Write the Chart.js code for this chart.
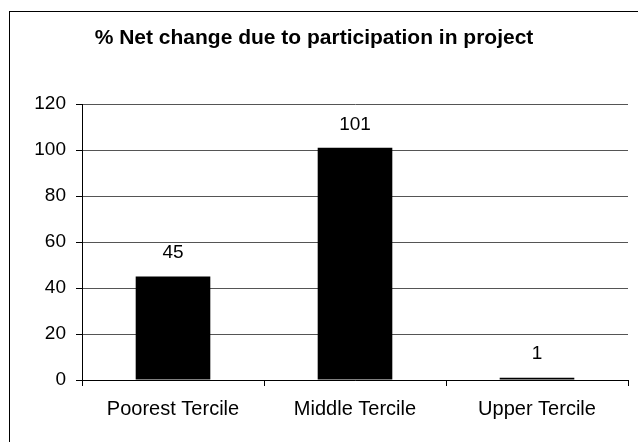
<!DOCTYPE html>
<html lang="en">
<head>
  <meta charset="UTF-8">
  <title>% Net change due to participation in project</title>
  <script src="https://cdn.jsdelivr.net/npm/chart.js"></script>
  <style>
    html, body { margin: 0; padding: 0; background: #fff; }
    .wrap { width: 638px; height: 442px; position: relative; }
  </style>
</head>
<body>
  <div class="wrap">
    <canvas id="grafico" width="638" height="442"></canvas>
  </div>

<script>
const categories = ['Poorest Tercile', 'Middle Tercile', 'Upper Tercile'];
const netChange = [45, 101, 1];
const yTicks = [0, 20, 40, 60, 80, 100, 120];

const FONT = "'Liberation Sans', Arial, sans-serif";

// frame around the whole chart, cut off at right and bottom like the source
const framePlugin = {
  id: 'frame',
  beforeDraw(chart) {
    const ctx = chart.ctx;
    ctx.save();
    ctx.fillStyle = '#fff';
    ctx.fillRect(0, 0, chart.width, chart.height);
    ctx.strokeStyle = '#000';
    ctx.lineWidth = 1;
    ctx.strokeRect(9.5, 11.5, chart.width + 10, chart.height + 10);
    ctx.restore();
  }
};

// value above each bar
const valueLabels = {
  id: 'valueLabels',
  afterDatasetsDraw(chart) {
    const ctx = chart.ctx;
    const meta = chart.getDatasetMeta(0);
    ctx.save();
    ctx.font = '19px ' + FONT;
    ctx.fillStyle = '#000';
    ctx.textAlign = 'center';
    ctx.textBaseline = 'bottom';
    meta.data.forEach((bar, i) => {
      ctx.fillText(String(netChange[i]), bar.x, bar.y - 14);
    });
    ctx.restore();
  }
};

new Chart(document.getElementById('grafico'), {
  type: 'bar',
  data: {
    labels: categories,
    datasets: [{
      data: netChange,
      backgroundColor: '#000',
      borderWidth: 0,
      barPercentage: 0.41,
      categoryPercentage: 1
    }]
  },
  options: {
    responsive: false,
    animation: false,
    layout: { padding: { left: 0, right: 10, top: 0, bottom: 0 } },
    plugins: {
      legend: { display: false },
      tooltip: { enabled: false },
      title: {
        display: true,
        text: '% Net change due to participation in project',
        color: '#000',
        font: { family: FONT, size: 21, weight: 'bold' },
        padding: { top: 26, bottom: 53 }
      }
    },
    scales: {
      x: {
        offset: true,
        grid: { offset: true, drawOnChartArea: false, drawTicks: true, tickLength: 6, color: '#000' },
        border: { color: '#000' },
        ticks: { color: '#000', font: { family: FONT, size: 20 }, padding: 11, maxRotation: 0 },
        afterFit(scale) { scale.height = 62; }
      },
      y: {
        min: 0,
        max: 120,
        afterBuildTicks(scale) { scale.ticks = yTicks.map(v => ({ value: v })); },
        grid: { color: '#555', tickLength: 6, tickColor: '#000' },
        border: { color: '#000' },
        ticks: { color: '#000', font: { family: FONT, size: 19 }, padding: 10 },
        afterFit(scale) { scale.width = 82; }
      }
    }
  },
  plugins: [framePlugin, valueLabels]
});
</script>
</body>
</html>
